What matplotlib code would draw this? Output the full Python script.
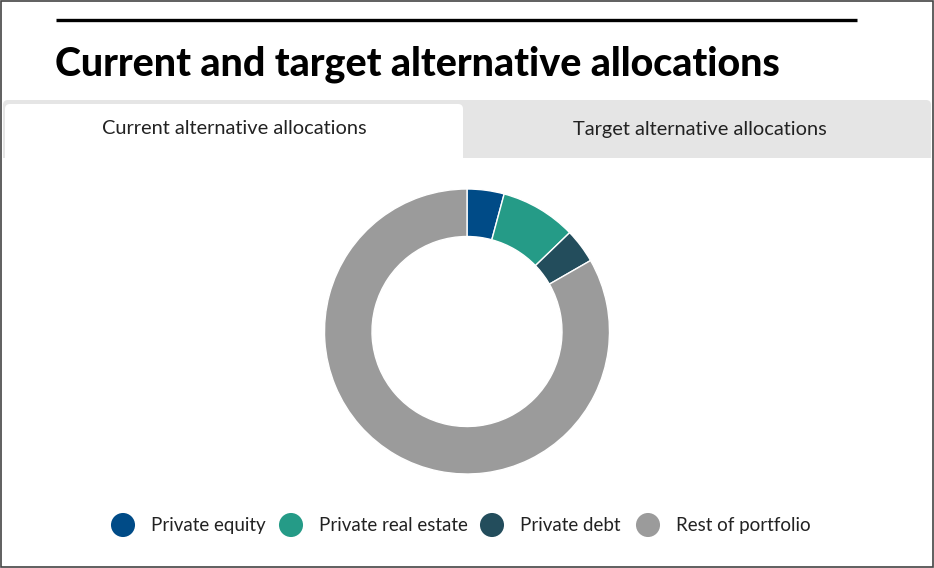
import matplotlib
matplotlib.use('Agg')
import matplotlib.pyplot as plt
from matplotlib.patches import FancyBboxPatch, Rectangle

plt.rcParams['font.family'] = ['Lato', 'DejaVu Sans']

# --- данные
labels = ['Private equity', 'Private real estate', 'Private debt', 'Rest of portfolio']
values = [4.2, 8.6, 3.9, 83.3]
colors = ['#004B87', '#259B87', '#234D5C', '#9B9B9B']
title = 'Current and target alternative allocations'
tabs = ['Current alternative allocations', 'Target alternative allocations']

W, H = 934, 568
fig = plt.figure(figsize=(W / 100, H / 100), dpi=100)

# фоновая ось в пикселях
bg = fig.add_axes([0, 0, 1, 1])
bg.set_xlim(0, W)
bg.set_ylim(H, 0)
bg.axis('off')

# рамка
bg.add_patch(Rectangle((0.5, 0.5), W - 1.5, H - 1.5, fill=False, edgecolor='#444444', linewidth=1.2))
# черная линия сверху
bg.plot([56, 857], [20, 20], color='black', linewidth=2.4, solid_capstyle='butt')
bg.text(55, 64, title, fontsize=28.4, fontweight='black', va='center', ha='left', color='black')

# вкладки
bg.add_patch(FancyBboxPatch((3, 100), 928, 66, boxstyle='round,pad=0,rounding_size=5',
                            facecolor='#E5E5E5', edgecolor='none'))
bg.add_patch(FancyBboxPatch((5, 104), 458, 60, boxstyle='round,pad=0,rounding_size=5',
                            facecolor='white', edgecolor='none'))
bg.add_patch(Rectangle((3, 157.5), 928, 408, facecolor='white', edgecolor='none'))
bg.text(234, 129, tabs[0], fontsize=14.4, ha='center', va='center', color='#222222')
bg.text(700, 129, tabs[1], fontsize=14.4, ha='center', va='center', color='#222222')

# легенда
leg_x = [123, 291, 492, 648]
for x, lab, c in zip(leg_x, labels, colors):
    bg.scatter([x], [525], s=300, color=c, edgecolors='none')
    bg.text(x + 28, 525.5, lab, fontsize=13.5, ha='left', va='center', color='#222222')

# кольцевая диаграмма
cx, cy, r = 467, H - 331.5, 142.5
ax = fig.add_axes([(cx - r) / W, (cy - r) / H, 2 * r / W, 2 * r / H])
ax.pie(values, colors=colors, startangle=90, counterclock=False, radius=1,
       wedgeprops=dict(width=47.5 / 142.5, edgecolor='white', linewidth=1))
ax.set_xlim(-1, 1)
ax.set_ylim(-1, 1)
ax.set_aspect('equal')
ax.axis('off')

fig.savefig('out.png', dpi=100)
